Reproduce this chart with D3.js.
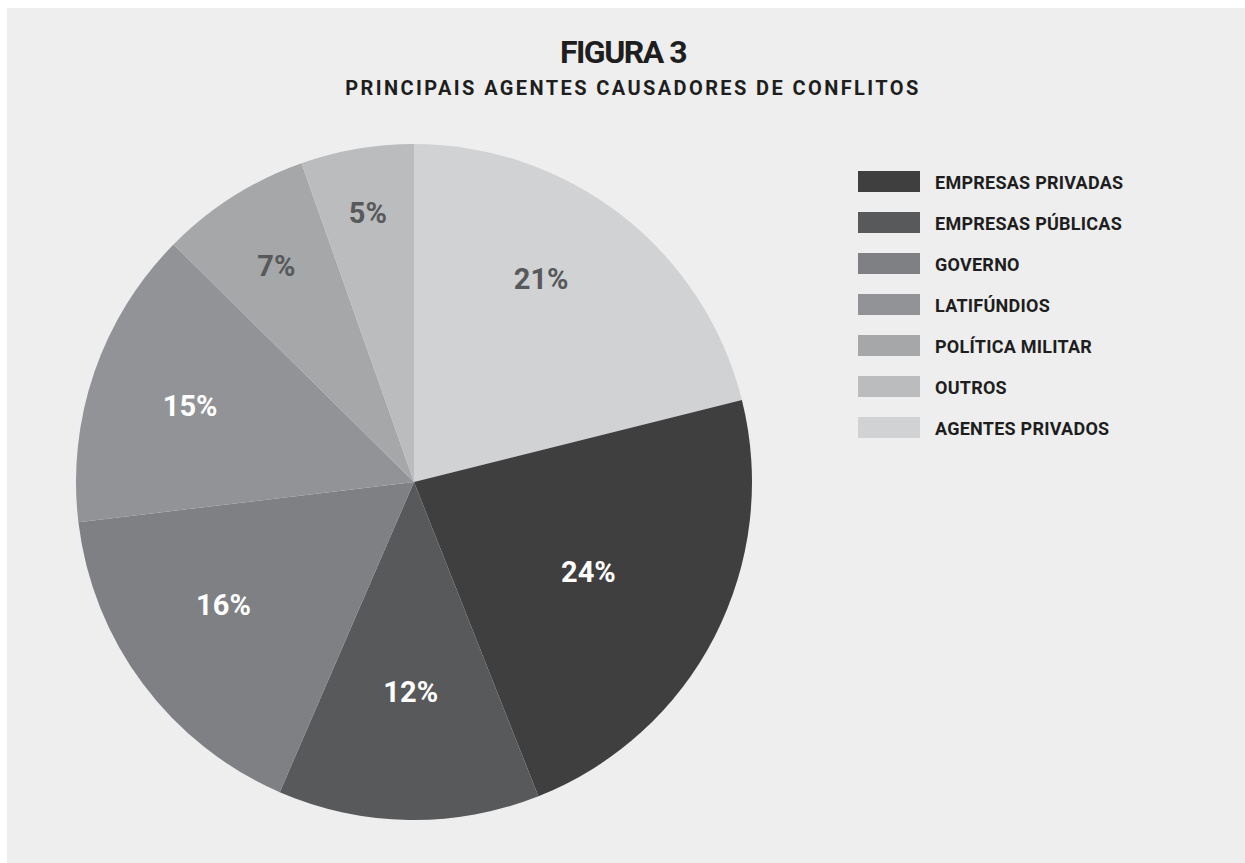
<!DOCTYPE html>
<html>
<head>
<meta charset="utf-8">
<script src="https://cdn.jsdelivr.net/npm/d3@7"></script>
<style>
    body { margin: 0; background: #fff; }
    svg { display: block; font-family: Roboto, sans-serif; }
</style>
</head>
<body>
<svg id="chart" width="1245" height="863"></svg>
<script>
/* Categories in drawing order, clockwise from 12 o'clock */
let categories = ['AGENTES PRIVADOS', 'EMPRESAS PRIVADAS', 'EMPRESAS PÚBLICAS', 'GOVERNO', 'LATIFÚNDIOS', 'POLÍTICA MILITAR', 'OUTROS'];
/* Slice sizes as drawn in the figure (the printed labels are rounded) */
let values = [21.1, 22.9, 12.5, 16.6, 14.3, 7.2, 5.4];
let labels = ['21%', '24%', '12%', '16%', '15%', '7%', '5%'];
/* Legend order as printed */
let legendOrder = ['EMPRESAS PRIVADAS', 'EMPRESAS PÚBLICAS', 'GOVERNO', 'LATIFÚNDIOS', 'POLÍTICA MILITAR', 'OUTROS', 'AGENTES PRIVADOS'];

let colors = {
    'EMPRESAS PRIVADAS': '#3f3f3f',
    'EMPRESAS PÚBLICAS': '#58595b',
    'GOVERNO': '#7f8084',
    'LATIFÚNDIOS': '#929396',
    'POLÍTICA MILITAR': '#a6a7a9',
    'OUTROS': '#bbbcbe',
    'AGENTES PRIVADOS': '#d1d2d4'
};
/* Light slices get dark labels */
let labelColors = {
    'AGENTES PRIVADOS': '#58595b',
    'POLÍTICA MILITAR': '#58595b',
    'OUTROS': '#58595b'
};
/* How far out each label sits, as a share of the radius */
let labelRadius = {
    'AGENTES PRIVADOS': 0.71,
    'EMPRESAS PRIVADAS': 0.58,
    'EMPRESAS PÚBLICAS': 0.62,
    'GOVERNO': 0.67,
    'LATIFÚNDIOS': 0.70,
    'POLÍTICA MILITAR': 0.76,
    'OUTROS': 0.81
};
/* Small angular nudge of a label away from the slice middle, degrees */
let labelTurn = {
    'AGENTES PRIVADOS': -6,
    'GOVERNO': 4
};

let svg = d3.select('#chart');

/* Grey panel */
svg.append('rect')
    .attr('x', 7).attr('y', 8)
    .attr('width', 1238).attr('height', 855)
    .attr('fill', '#eeeeee');

/* Titles */
svg.append('text')
    .attr('x', 623).attr('y', 63)
    .attr('text-anchor', 'middle')
    .attr('font-size', 32).attr('font-weight', 700)
    .attr('letter-spacing', -1.5)
    .attr('fill', '#1e1e1e')
    .text('FIGURA 3');
svg.append('text')
    .attr('x', 633).attr('y', 95)
    .attr('text-anchor', 'middle')
    .attr('font-size', 20).attr('font-weight', 700)
    .attr('letter-spacing', 2.4)
    .attr('fill', '#1e1e1e')
    .text('PRINCIPAIS AGENTES CAUSADORES DE CONFLITOS');

/* Pie */
let cx = 414, cy = 482, radius = 338;
let data = categories.map((c, i) => ({name: c, value: values[i], label: labels[i]}));

let pie = d3.pie()
    .value(d => d.value)
    .sort(null);
let arc = d3.arc()
    .innerRadius(0)
    .outerRadius(radius);

let g = svg.append('g')
    .attr('transform', `translate(${cx},${cy})`);

let arcs = pie(data);

g.selectAll('path')
    .data(arcs)
    .enter()
    .append('path')
    .attr('d', arc)
    .attr('fill', d => colors[d.data.name]);

g.selectAll('text')
    .data(arcs)
    .enter()
    .append('text')
    .attr('transform', d => {
        let r = radius * labelRadius[d.data.name];
        let a = (d.startAngle + d.endAngle) / 2 + (labelTurn[d.data.name] || 0) * Math.PI / 180;
        return `translate(${r * Math.sin(a)},${-r * Math.cos(a)})`;
    })
    .attr('text-anchor', 'middle')
    .attr('dy', '0.36em')
    .attr('font-size', 29).attr('font-weight', 700)
    .attr('fill', d => labelColors[d.data.name] || '#ffffff')
    .text(d => d.data.label);

/* Legend */
let legendY = d3.scaleBand()
    .domain(legendOrder)
    .range([171, 171 + 41 * legendOrder.length]);

let legend = svg.append('g');
legend.selectAll('rect')
    .data(legendOrder)
    .enter()
    .append('rect')
    .attr('x', 858)
    .attr('y', d => legendY(d))
    .attr('width', 62).attr('height', 21)
    .attr('fill', d => colors[d]);
legend.selectAll('text')
    .data(legendOrder)
    .enter()
    .append('text')
    .attr('x', 935)
    .attr('y', d => legendY(d) + 18)
    .attr('font-size', 18).attr('font-weight', 700)
    .attr('letter-spacing', 0.25)
    .attr('fill', '#1e1e1e')
    .text(d => d);
</script>
</body>
</html>
